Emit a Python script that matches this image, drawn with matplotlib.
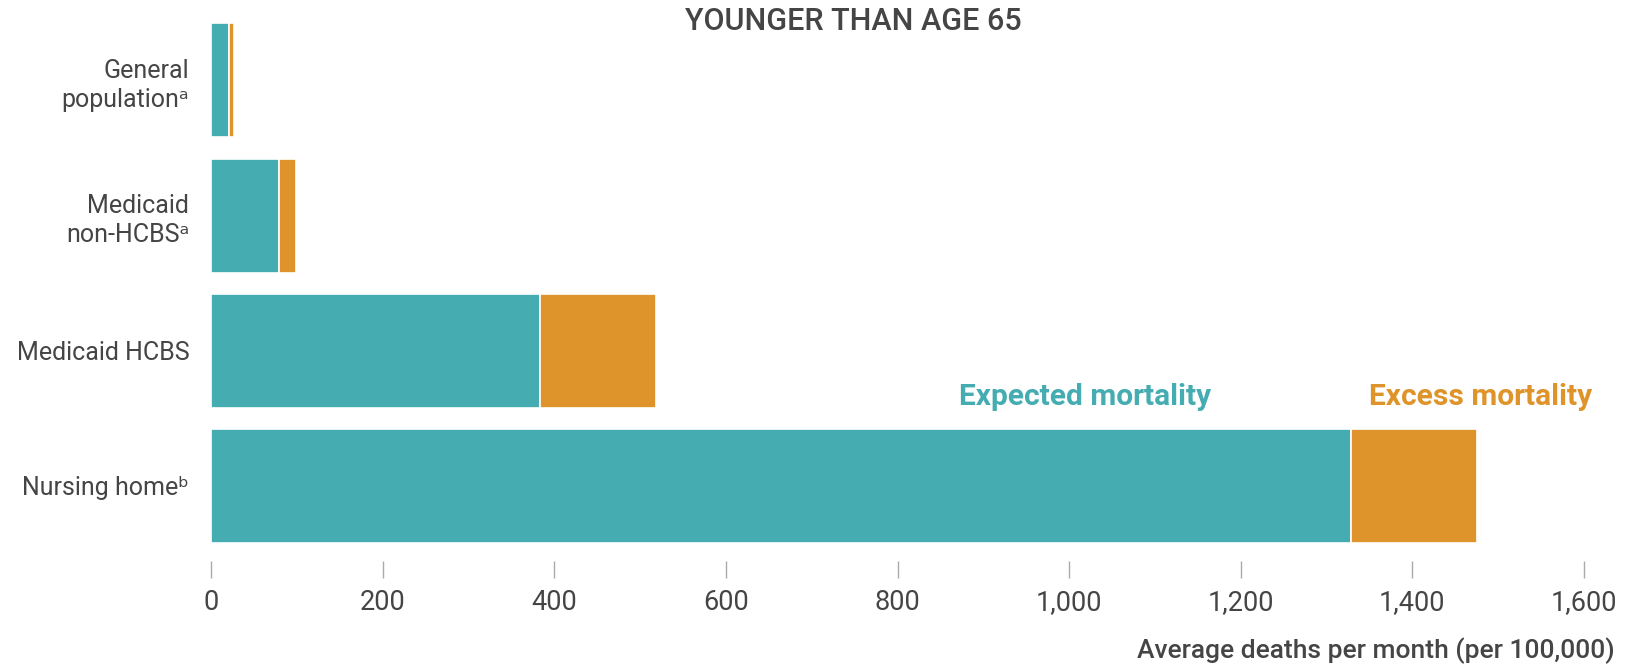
import matplotlib
matplotlib.use('Agg')
import matplotlib.pyplot as plt

# data (deaths per month per 100,000)
categories = ['General\npopulation\u1d43', 'Medicaid\nnon-HCBS\u1d43', 'Medicaid HCBS', 'Nursing home\u1d47']
expected = [20, 79, 383, 1329]
excess = [6, 20, 135, 146]
ticks = [0, 200, 400, 600, 800, 1000, 1200, 1400, 1600]
tick_labels = ['0', '200', '400', '600', '800', '1,000', '1,200', '1,400', '1,600']

teal = '#45adb1'
orange = '#de942a'
grey = '#454545'

plt.rcParams['font.family'] = ['Roboto', 'DejaVu Sans']

fig = plt.figure(figsize=(16.26, 6.67), dpi=100)
ax = fig.add_axes([0.130, 1 - 561 / 667, 0.974 - 0.130, (561 - 22) / 667])

# nursing home at the bottom
ypos = [3, 2, 1, 0]
ax.barh(ypos, expected, height=0.843, color=teal, edgecolor='white', linewidth=1.2)
ax.barh(ypos, excess, left=expected, height=0.843, color=orange, edgecolor='white', linewidth=1.2)

ax.set_xlim(0, 1600)
ax.set_ylim(-0.555, 3.432)
ax.set_xticks(ticks)
ax.set_xticklabels(tick_labels, fontsize=19.5, color=grey)
ax.set_yticks(ypos)
ax.set_yticklabels(categories, fontsize=18, color=grey, linespacing=1.25)
ax.tick_params(axis='x', length=12, width=1, color='#aaaaaa', pad=8)
ax.tick_params(axis='y', length=0, pad=16)
for s in ax.spines.values():
    s.set_visible(False)

ax.text(1019, 0.66, 'Expected mortality', color=teal, fontsize=21.5, fontweight='bold',
        ha='center', va='center')
ax.text(1480, 0.66, 'Excess mortality', color=orange, fontsize=21.5, fontweight='bold',
        ha='center', va='center')

fig.text(853 / 1626, 1 - 21 / 667, 'YOUNGER THAN AGE 65', fontsize=22, color=grey,
         ha='center', va='center', fontweight='medium')
fig.text(1615 / 1626, 1 - 651 / 667, 'Average deaths per month (per 100,000)', fontsize=19,
         color=grey, ha='right', va='center', fontweight='medium')

fig.savefig('out.png', dpi=100)
